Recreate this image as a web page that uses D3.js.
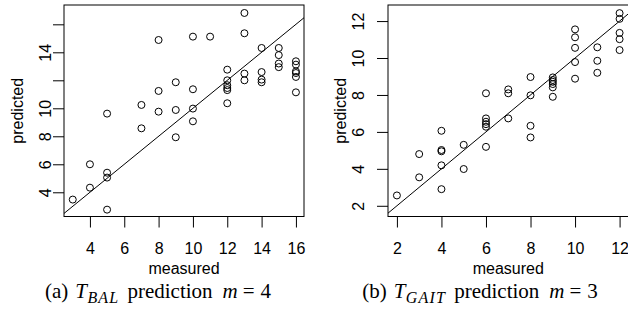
<!DOCTYPE html>
<html>
<head>
<meta charset="utf-8">
<script src="https://cdn.jsdelivr.net/npm/d3@7"></script>
<style>
  body { margin: 0; background: #fff; }
  svg { display: block; }
  .tick text, .axis-title { font-family: "Liberation Sans", Arial, sans-serif; font-size: 16px; fill: #000; }
  .caption { font-family: "Liberation Serif", "Times New Roman", serif; font-size: 21px; fill: #000; }
</style>
</head>
<body>
<div id="wrapper"></div>
<script>
// panel (a): T_BAL, m = 4
const balMeasured = [3, 4, 4, 5, 5, 5, 5, 7, 7, 8, 8, 8, 9, 9, 9, 10, 10, 10, 10, 11,
  12, 12, 12, 12, 12, 12, 13, 13, 13, 13, 14, 14, 14, 14, 15, 15, 15, 15,
  16, 16, 16, 16, 16, 16]
const balPredicted = [3.48, 6.0, 4.33, 9.62, 5.4, 5.05, 2.76, 10.24, 8.57, 14.88, 11.24, 9.76,
  11.86, 9.88, 7.93, 15.12, 11.36, 9.98, 9.07, 15.12,
  12.76, 12.0, 11.65, 11.45, 11.3, 10.36, 16.81, 15.36, 12.48, 12.0,
  14.31, 12.59, 12.05, 11.86, 14.31, 13.8, 13.2, 12.94,
  13.36, 13.12, 12.64, 12.52, 12.24, 11.14]
const balXTicks = [4, 6, 8, 10, 12, 14, 16]
const balYTicks = [4, 6, 8, 10, 12, 14, 16]
const balYLabels = [4, 6, 8, 10, 14]   // 12 and 16 are not printed

// panel (b): T_GAIT, m = 3
const gaitMeasured = [2, 3, 3, 4, 4, 4, 4, 4, 5, 5, 6, 6, 6, 6, 6, 6, 7, 7, 7, 8, 8, 8, 8,
  9, 9, 9, 9, 9, 9, 10, 10, 10, 10, 10, 11, 11, 11, 12, 12, 12, 12, 12]
const gaitPredicted = [2.56, 4.8, 3.54, 6.06, 5.02, 4.95, 4.19, 2.9, 5.3, 3.99,
  8.09, 6.73, 6.55, 6.42, 6.28, 5.19, 8.3, 8.09, 6.73, 8.97, 7.98, 6.33, 5.7,
  8.95, 8.81, 8.71, 8.59, 8.41, 7.9, 11.55, 11.12, 10.55, 9.78, 8.88,
  10.58, 9.85, 9.2, 12.43, 12.12, 11.36, 11.02, 10.43]
const gaitXTicks = [2, 4, 6, 8, 10, 12]
const gaitYTicks = [2, 4, 6, 8, 10, 12]
const gaitYLabels = [2, 4, 6, 8, 10, 12]

const width = 628
const height = 316

const svg = d3.select("#wrapper")
  .append("svg")
    .attr("width", width)
    .attr("height", height)

function drawPanel(cfg) {
  const xScale = d3.scaleLinear()
    .domain(cfg.xDomain)
    .range([cfg.left, cfg.right])
  const yScale = d3.scaleLinear()
    .domain(cfg.yDomain)
    .range([cfg.bottom, cfg.top])

  const g = svg.append("g")

  // clip for the y = x line
  svg.append("defs").append("clipPath")
      .attr("id", cfg.id + "-clip")
    .append("rect")
      .attr("x", cfg.left)
      .attr("y", cfg.top)
      .attr("width", cfg.right - cfg.left)
      .attr("height", cfg.bottom - cfg.top)

  // x axis
  const xAxis = d3.axisBottom(xScale)
    .tickValues(cfg.xTicks)
    .tickSize(11)
    .tickSizeOuter(0)
    .tickPadding(0)
  const xAxisGroup = g.append("g")
      .attr("transform", `translate(0,${cfg.bottom})`)
      .call(xAxis)
  xAxisGroup.select(".domain").remove()
  xAxisGroup.selectAll(".tick line").attr("stroke", "#000")
  xAxisGroup.selectAll(".tick text")
      .attr("y", 37.5)
      .attr("dy", null)
      .attr("font-family", null)
      .attr("font-size", null)

  // y axis, labels rotated like R
  const yAxis = d3.axisLeft(yScale)
    .tickValues(cfg.yTicks)
    .tickSize(11)
    .tickSizeOuter(0)
    .tickFormat(d => cfg.yLabels.includes(d) ? d : "")
  const yAxisGroup = g.append("g")
      .attr("transform", `translate(${cfg.left},0)`)
      .call(yAxis)
  yAxisGroup.select(".domain").remove()
  yAxisGroup.selectAll(".tick line").attr("stroke", "#000")
  yAxisGroup.selectAll(".tick text")
      .attr("x", null)
      .attr("dy", null)
      .attr("font-family", null)
      .attr("font-size", null)
      .attr("text-anchor", "middle")
      .attr("transform", `translate(${cfg.yLabelOffset},0) rotate(-90)`)

  // box
  g.append("rect")
      .attr("x", cfg.left)
      .attr("y", cfg.top)
      .attr("width", cfg.right - cfg.left)
      .attr("height", cfg.bottom - cfg.top)
      .attr("fill", "none")
      .attr("stroke", "#000")
      .attr("stroke-width", 1)

  // y = x reference line
  const lineGenerator = d3.line()
    .x(d => xScale(d))
    .y(d => yScale(d))
  const lo = Math.min(cfg.xDomain[0], cfg.yDomain[0])
  const hi = Math.max(cfg.xDomain[1], cfg.yDomain[1])
  g.append("path")
      .attr("clip-path", `url(#${cfg.id}-clip)`)
      .attr("d", lineGenerator([lo, hi]))
      .attr("fill", "none")
      .attr("stroke", "#000")
      .attr("stroke-width", 1)

  // points
  g.selectAll(".dot")
    .data(d3.range(cfg.measured.length))
    .join("circle")
      .attr("class", "dot")
      .attr("cx", i => xScale(cfg.measured[i]))
      .attr("cy", i => yScale(cfg.predicted[i]))
      .attr("r", 3.5)
      .attr("fill", "none")
      .attr("stroke", "#000")
      .attr("stroke-width", 1)

  // axis titles
  const midX = (cfg.left + cfg.right) / 2
  const midY = (cfg.top + cfg.bottom) / 2
  g.append("text")
      .attr("class", "axis-title")
      .attr("x", midX)
      .attr("y", 273.5)
      .attr("text-anchor", "middle")
      .text("measured")
  g.append("text")
      .attr("class", "axis-title")
      .attr("text-anchor", "middle")
      .attr("transform", `translate(${cfg.yTitleX},${midY}) rotate(-90)`)
      .text("predicted")

  // caption, spaced roughly like the LaTeX original
  const caption = g.append("text")
      .attr("class", "caption")
      .attr("x", cfg.captionX)
      .attr("y", 298)
      .attr("text-anchor", "middle")
  caption.append("tspan").text(`(${cfg.letter})`)
  caption.append("tspan")
      .attr("dx", 7)
      .attr("font-style", "italic")
      .text("T")
  caption.append("tspan")
      .attr("dx", 0.5)
      .attr("dy", 5)
      .attr("font-style", "italic")
      .attr("font-size", "16px")
      .attr("letter-spacing", 1.2)
      .text(cfg.sub)
  caption.append("tspan")
      .attr("dx", 8)
      .attr("dy", -5)
      .text("prediction")
  caption.append("tspan")
      .attr("dx", 10)
      .attr("font-style", "italic")
      .text("m")
  caption.append("tspan")
      .attr("dx", 5)
      .text("=")
  caption.append("tspan")
      .attr("dx", 6)
      .text(cfg.m)
}

drawPanel({
  id: "bal",
  letter: "a",
  sub: "BAL",
  m: 4,
  measured: balMeasured,
  predicted: balPredicted,
  xTicks: balXTicks,
  yTicks: balYTicks,
  yLabels: balYLabels,
  xDomain: [2.49, 16.47],
  yDomain: [2.27, 17.38],
  left: 64, right: 304, top: 5, bottom: 216.5,
  yLabelOffset: -13.3,
  yTitleX: 22.5,
  captionX: 158
})

drawPanel({
  id: "gait",
  letter: "b",
  sub: "GAIT",
  m: 3,
  measured: gaitMeasured,
  predicted: gaitPredicted,
  xTicks: gaitXTicks,
  yTicks: gaitYTicks,
  yLabels: gaitYLabels,
  xDomain: [1.6, 12.4],
  yDomain: [1.42, 12.87],
  left: 388, right: 628.5, top: 5, bottom: 216.5,
  yLabelOffset: -24.3,
  yTitleX: 345.5,
  captionX: 480
})
</script>
</body>
</html>
